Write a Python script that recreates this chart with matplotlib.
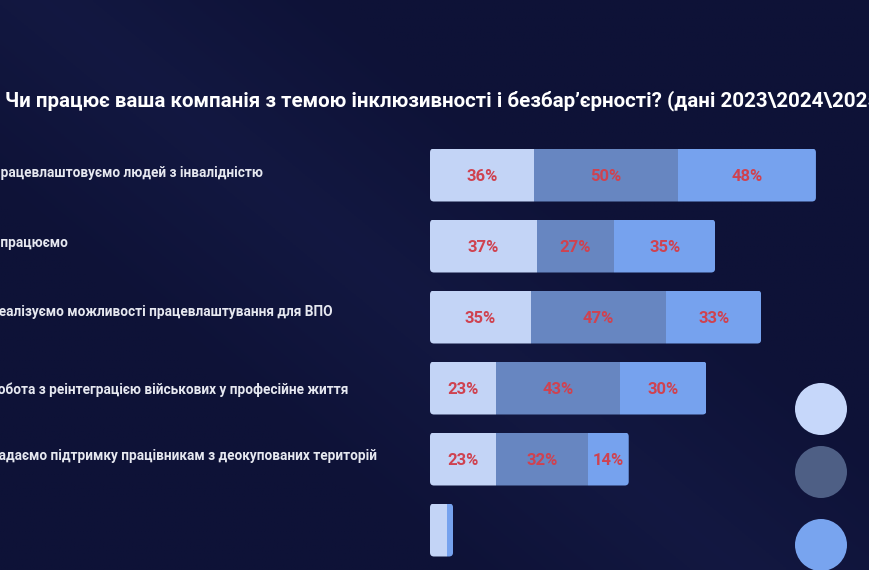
import matplotlib
matplotlib.use("Agg")
import matplotlib.pyplot as plt
import numpy as np
from matplotlib.patches import FancyBboxPatch, Circle

title = "Чи працює ваша компанія з темою інклюзивності і безбар’єрності? (дані 2023\\2024\\2025)"
categories = [
    "Працевлаштовуємо людей з інвалідністю",
    "Не працюємо",
    "Реалізуємо можливості працевлаштування для ВПО",
    "Робота з реінтеграцією військових у професійне життя",
    "Надаємо підтримку працівникам з деокупованих територій",
    "",
]
v2023 = [36, 37, 35, 23, 23, 6]
v2024 = [50, 27, 47, 43, 32, 0]
v2025 = [48, 35, 33, 30, 14, 2]
series = [v2023, v2024, v2025]
colors = ["#C3D4F6", "#6786C1", "#76A2EE"]
legend_colors = ["#C6D7FA", "#4E5F85", "#78A4EF"]

W, H = 870, 570
fig = plt.figure(figsize=(W / 100, H / 100), dpi=100)
bg = "#0F1438"
fig.patch.set_facecolor(bg)

# background gradient
bax = fig.add_axes([0, 0, 1, 1])
bax.set_axis_off()
yy, xx = np.mgrid[0:1:200j, 0:1:300j]
g = np.clip(1.0 - np.abs((xx * 1.0 - (1 - yy) * 0.8) - 0.05) * 3.0, 0, 1) * 0.6
c0 = np.array([0x0E, 0x12, 0x37]) / 255
c1 = np.array([0x16, 0x1C, 0x48]) / 255
img = c0[None, None, :] + (c1 - c0)[None, None, :] * g[..., None]
bax.imshow(img, extent=[0, 1, 0, 1], aspect="auto", origin="lower")
bax.set_xlim(0, 1)
bax.set_ylim(0, 1)

# title and category labels (in pixel-like coordinates)
tax = fig.add_axes([0, 0, 1, 1])
tax.set_axis_off()
tax.set_xlim(0, W)
tax.set_ylim(H, 0)
tax.patch.set_alpha(0)
tax.text(5, 101, title, color="white", fontsize=14.8, fontweight="bold",
         family="Roboto", va="center", ha="left")

px_per_pct = 2.88
row0, row_step = 175, 71
left_px = 430
ax = fig.add_axes([left_px / W, 0, (W - left_px) / W, 1])
ax.set_axis_off()
ax.patch.set_alpha(0)
ax.set_xlim(0, (W - left_px) / px_per_pct)
ax.set_ylim((H - row0) / row_step, -row0 / row_step)

ypos = np.arange(len(categories))
bar_h = 53 / row_step
lefts = np.zeros(len(categories))
totals = np.sum(series, axis=0)
rad_x = 4 / px_per_pct
aspect = (1 / row_step) / (1 / px_per_pct)
clips = []
for i in range(len(categories)):
    clip = FancyBboxPatch((0, ypos[i] - bar_h / 2), totals[i], bar_h,
                          boxstyle=f"round,pad=0,rounding_size={rad_x}",
                          mutation_aspect=aspect, transform=ax.transData,
                          facecolor="none", edgecolor="none")
    ax.add_patch(clip)
    clips.append(clip)

for s, col in zip(series, colors):
    bars = ax.barh(ypos, s, left=lefts, height=bar_h, color=col, edgecolor="none")
    for i, b in enumerate(bars):
        b.set_clip_path(clips[i])
        if s[i] >= 10:
            ax.text(lefts[i] + s[i] / 2, ypos[i] + 0.02, f"{s[i]}%", color="#CF4250",
                    fontsize=12, fontweight="bold", family="Roboto",
                    ha="center", va="center")
    lefts = lefts + np.array(s)

label_dy = [-2, -3, -5, 2, -3]
label_x = [-9, -20, -10, -11, -11]
for i, cat in enumerate(categories):
    if not cat:
        continue
    tax.text(label_x[i], row0 + row_step * i + label_dy[i], cat, color="#E6E8F0",
             fontsize=9.8, fontweight="bold", family="Roboto",
             ha="left", va="center")

# legend circles
for k, c in enumerate(legend_colors):
    cy = [409, 472, 545][k]
    tax.add_patch(Circle((821, cy), 26, facecolor=c, edgecolor="none"))

fig.savefig("out.png", dpi=100, facecolor=fig.get_facecolor())
